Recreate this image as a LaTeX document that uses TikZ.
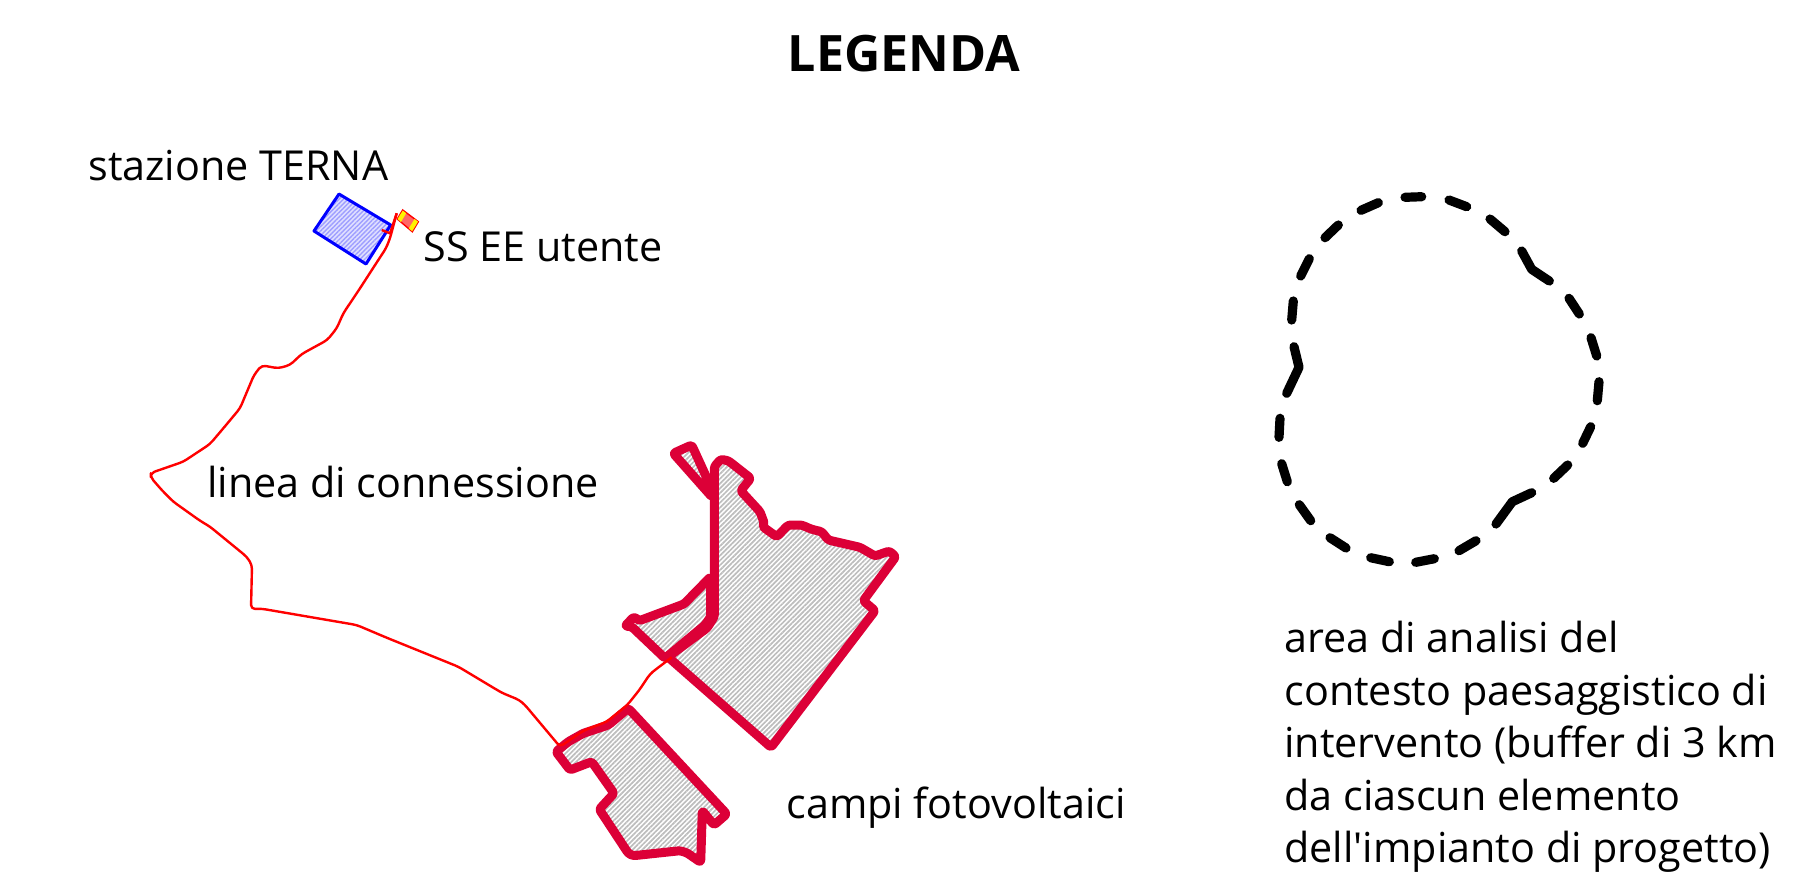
\documentclass[tikz,border=0pt]{standalone}
\usepackage{fontspec}
\newfontfamily\bodyfont[Ligatures=NoCommon]{Open Sans}
\setmainfont{Carlito}
\usetikzlibrary{patterns.meta}
\definecolor{crimson}{HTML}{DC0037}
\tikzset{
  x=0.5pt,y=-0.5pt,
  lbl/.style={anchor=base west,inner sep=0pt,font=\bodyfont\fontsize{20.65pt}{26pt}\selectfont},
  field/.style={draw=crimson,line width=4.5pt,line join=round,rounded corners=1.2pt,
    pattern={Lines[angle=45,distance=1.7pt,line width=0.85pt]},pattern color=black!26},
  cable/.style={draw=red,line width=1.2pt,line join=round,rounded corners=2pt},
  buf/.style={draw=black,line width=4.6pt,line cap=round,line join=round},
}
\begin{document}
\begin{tikzpicture}
\useasboundingbox (0,0) rectangle (1797,891);
% stazione TERNA
\fill[blue!12] (339,194)--(390.7,225)--(366,264)--(314,231)--cycle;
\draw[blue,line width=1.5pt,line join=round,
  pattern={Lines[angle=45,distance=1.6pt,line width=0.7pt]},pattern color=blue!38]
  (339,194)--(390.7,225)--(366,264)--(314,231)--cycle;
% SS EE utente
\draw[red,line width=0.7pt,fill=red!60] (402.7,210)--(418.3,221.7)--(412.3,231.7)--(397.3,219)--cycle;
\fill[yellow] (402.7,210.6)--(406.2,213.2)--(401,222)--(397.6,219)--cycle;
\fill[yellow] (414.5,219)--(418,221.6)--(412.2,231.2)--(408.8,228.3)--cycle;
% fields
\draw[field] (673.3,453.3)--(691.7,445)--(710,485)--(712,497)--cycle;
\draw[field] (714.3,466.7)--(720.7,459.3)--(728.3,460.7)--(750.7,478.3)--(740.7,490.7)--(760,511.7)--(764.3,523.3)--(762.7,526.7)--(776.7,536.7)--(788.3,525)--(801.7,525)--(811.7,529.3)--(821.7,531.7)--(828.3,540)--(840,542.7)--(860,547.3)--(875,556)--(889.3,551)--(895.7,556.7)--(863.3,600.7)--(875,610.7)--(771,747.3)--(668,657)--(707,628)--(714.3,616.7)--cycle;
\draw[field] (625,626)--(634,616.7)--(639.3,620.7)--(684,604)--(710.7,576.7)--(710.7,616.7)--(705,625)--(665,658.3)--(631.7,626.7)--cycle;
\draw[field] (556,751.7)--(570,770)--(591.7,761.7)--(614,793.3)--(599.3,809.3)--(628.3,853.3)--(633.3,855.7)--(680,850.7)--(686.7,852.7)--(700.7,862.3)--(702.3,810.7)--(714,825)--(726.7,814)--(628.3,708.3)--(608.3,725)--(583.3,733.3)--(568.3,741.7)--cycle;
% cable
\coordinate (cablestart) at (671.7,657.3);
\coordinate (cableend) at (381.7,230);
\draw[cable] (cablestart)--(655,670)--(650,674)--(639.3,690)--(627.3,705)--(606.7,721.7)--(583.3,730.7)--(560,746.7)--(525,705)--(519.3,700)--(501.7,692.7)--(458.3,666.7)--(386.7,637.7)--(356.7,625)--(261.7,608.7)--(251,609)--(252,565)--(246.7,556.7)--(210,526.7)--(200,520.7)--(173.3,501.7)--(161.7,490)--(150.7,477.3)--(150.7,473)--(183.3,461.7)--(210,444)--(223.3,428.3)--(240,408.3)--(254,375)--(261.7,365.3)--(278.3,368.3)--(290,365)--(301.7,354)--(327.3,340)--(336.7,328.3)--(343.3,313.3)--(360,288.3)--(378.3,260)--(386,248.3)--(390,238.3)--(396.7,213.3);
\draw[red,line width=1.2pt] (396.7,213.3)--(390,233.3)--(cableend);
% buffer outline
\foreach \p in {
 {(1405,197.3)--(1421.7,196.7)},
 {(1449,200)--(1466.7,206.7)},
 {(1490,219)--(1505,231.7)},
 {(1521.7,251)--(1531.7,269.3)--(1549.3,281)},
 {(1569,298.3)--(1579.3,314)},
 {(1591,337.7)--(1596.7,356)},
 {(1599,381.7)--(1597.3,400.7)},
 {(1590.7,426.7)--(1582.7,443.3)},
 {(1567.7,465)--(1553.7,478.3)},
 {(1531.7,492.7)--(1512.3,501.7)--(1496,524)},
 {(1476,540.7)--(1459,550.7)},
 {(1434.3,558.7)--(1415.7,562.3)},
 {(1389.3,561.7)--(1370.7,557.7)},
 {(1346,548)--(1330,537.7)},
 {(1310.7,520.7)--(1299.3,504.7)},
 {(1287.3,481.7)--(1281.7,463.7)},
 {(1279,437.3)--(1280,418.3)},
 {(1286.7,393.3)--(1299,367.3)--(1294,346.7)},
 {(1291.7,320)--(1293.3,301)},
 {(1300.7,276)--(1309.3,258.7)},
 {(1325,237.7)--(1338.3,225)},
 {(1361,210.3)--(1378.3,202.7)}}
 {\draw[buf] \p;}
% labels
\node[anchor=base,inner sep=0pt,font=\bodyfont\fontsize{25.1pt}{30pt}\selectfont\bfseries] (title) at (904,71) {LEGENDA};
\node[lbl] (terna) at (88,180) {stazione TERNA};
\node[lbl] (ssee) at (423,261) {SS EE utente};
\node[lbl] (linea) at (207,497) {linea di connessione};
\node[lbl] (campi) at (786,818) {campi fotovoltaici};
\node[lbl] (a1) at (1284,652) {area di analisi del};
\node[lbl] (a2) at (1284,705) {contesto paesaggistico di};
\node[lbl] (a3) at (1284,757) {intervento (buffer di 3 km};
\node[lbl] (a4) at (1284,810) {da ciascun elemento};
\node[lbl] (a5) at (1284,862) {dell'impianto di progetto)};
\end{tikzpicture}
\end{document}
